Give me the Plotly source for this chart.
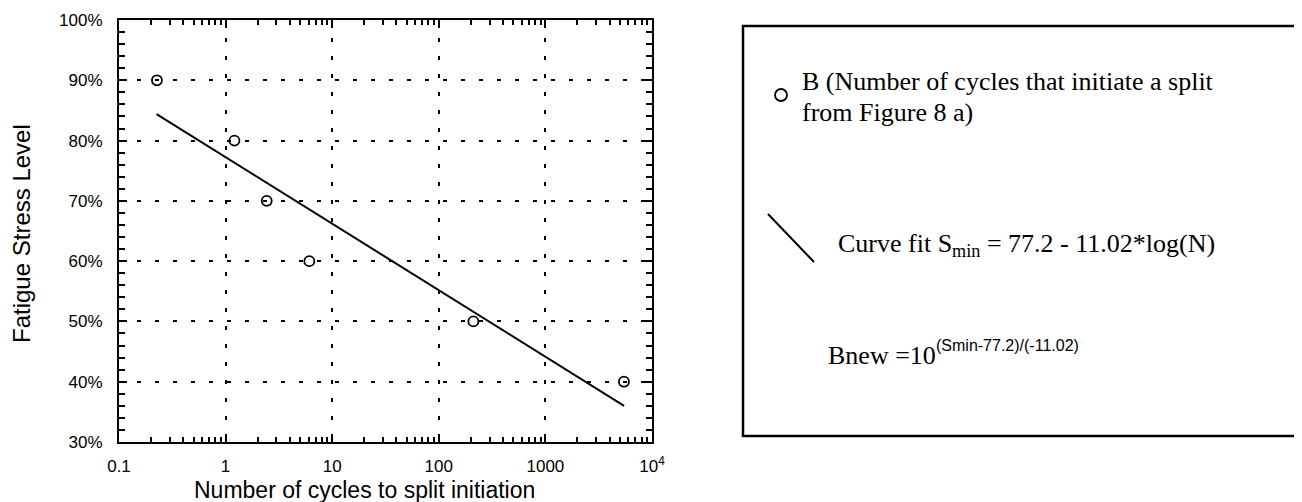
import plotly.graph_objects as go

# ---- data ----
cycles = [0.227, 1.21, 2.43, 6.1, 211, 5455]          # N (cycles to split initiation)
stress = [90, 80, 70, 60, 50, 40]                     # fatigue stress level, %
fit_cycles = [0.225, 5470]                            # curve-fit end points
fit_stress = [84.4, 36.0]

x_tickvals = [0.1, 1, 10, 100, 1000, 10000]
x_ticktext = ["0.1", "1", "10", "100", "1000", "10<sup>4</sup>"]
y_tickvals = [30, 40, 50, 60, 70, 80, 90, 100]
y_ticktext = ["30%", "40%", "50%", "60%", "70%", "80%", "90%", "100%"]
x_minor = [m * 10 ** k for k in range(-1, 4) for m in range(2, 10)]

# ---- layout geometry (screen pixels; page body has an 8px margin) ----
OFF = 8
W, H = 1302 - OFF, 502 - OFF
L, T = 119 - OFF, 20 - OFF
R = W - (652 - OFF)
B = H - (442 - OFF)
PW, PH = W - L - R, H - T - B


def px(x):
    return (x - OFF - L) / PW


def py(y):
    return (H - B - (y - OFF)) / PH


fig = go.Figure()
fig.add_trace(go.Scatter(x=fit_cycles, y=fit_stress, mode="lines",
                         line=dict(color="black", width=2), showlegend=False))
fig.add_trace(go.Scatter(x=cycles, y=stress, mode="markers",
                         marker=dict(symbol="circle-open", size=10, color="black",
                                     line=dict(width=1.8, color="black")),
                         showlegend=False))

axis_font = dict(family="Liberation Sans, Arial", size=17, color="black")
grid = dict(showgrid=True, gridcolor="black", gridwidth=2.2, griddash="4px,14px")
fig.update_xaxes(type="log", range=[-1, 4], tickmode="array", tickvals=x_tickvals,
                 ticktext=x_ticktext, ticks="inside", ticklen=8, tickwidth=2,
                 tickcolor="black", showline=True, linewidth=2, linecolor="black",
                 mirror="ticks", tickfont=axis_font, ticklabelstandoff=8,
                 zeroline=False, automargin=False, **grid,
                 minor=dict(tickmode="array", tickvals=x_minor, ticks="inside",
                            ticklen=5, tickwidth=1.5, tickcolor="black", showgrid=False))
fig.update_yaxes(range=[30, 100], tickmode="array", tickvals=y_tickvals,
                 ticktext=y_ticktext, ticks="inside", ticklen=8, tickwidth=2,
                 tickcolor="black", showline=True, linewidth=2, linecolor="black",
                 mirror="ticks", tickfont=axis_font, ticklabelstandoff=11,
                 zeroline=False, automargin=False, **grid,
                 minor=dict(dtick=2, ticks="inside", ticklen=6, tickwidth=1.5,
                            tickcolor="black", showgrid=False))

title_font = dict(family="Liberation Sans, Arial", size=23, color="black")
serif = dict(family="Liberation Serif, Times New Roman", size=26, color="black")

annotations = [
    dict(x=px(364), y=py(490), text="Number of cycles to split initiation",
         font=title_font, xanchor="center", yanchor="middle"),
    dict(x=px(21), y=py(234), text="Fatigue Stress Level", textangle=-90,
         font=dict(family="Liberation Sans, Arial", size=24, color="black"),
         xanchor="center", yanchor="middle"),
    dict(x=px(800), y=py(81), text="B (Number of cycles that initiate a split",
         font=serif, xanchor="left", yanchor="middle"),
    dict(x=px(800), y=py(112), text="from Figure 8 a)",
         font=serif, xanchor="left", yanchor="middle"),
    dict(x=px(836), y=py(245), text="Curve fit S<sub>min</sub> = 77.2 - 11.02*log(N)",
         font=serif, xanchor="left", yanchor="middle"),
    dict(x=px(826), y=py(355), text="Bnew =10",
         font=serif, xanchor="left", yanchor="middle"),
    dict(x=px(934), y=py(345), text="(Smin-77.2)/(-11.02)",
         font=dict(family="Liberation Sans, Arial", size=16, color="black"),
         xanchor="left", yanchor="middle"),
]
for a in annotations:
    a.update(xref="paper", yref="paper", showarrow=False)

shapes = [
    dict(type="rect", xref="paper", yref="paper", x0=px(743), x1=px(1312),
         y0=py(436), y1=py(26), line=dict(color="black", width=2.5)),
    dict(type="circle", xref="paper", yref="paper", x0=px(775), x1=px(787),
         y0=py(101), y1=py(89), line=dict(color="black", width=1.8)),
    dict(type="line", xref="paper", yref="paper", x0=px(768), x1=px(814),
         y0=py(214), y1=py(262), line=dict(color="black", width=2)),
]

fig.update_layout(width=W, height=H, margin=dict(l=L, r=R, t=T, b=B, autoexpand=False),
                  paper_bgcolor="white", plot_bgcolor="white",
                  annotations=annotations, shapes=shapes, showlegend=False)

fig.write_html("out.html")
